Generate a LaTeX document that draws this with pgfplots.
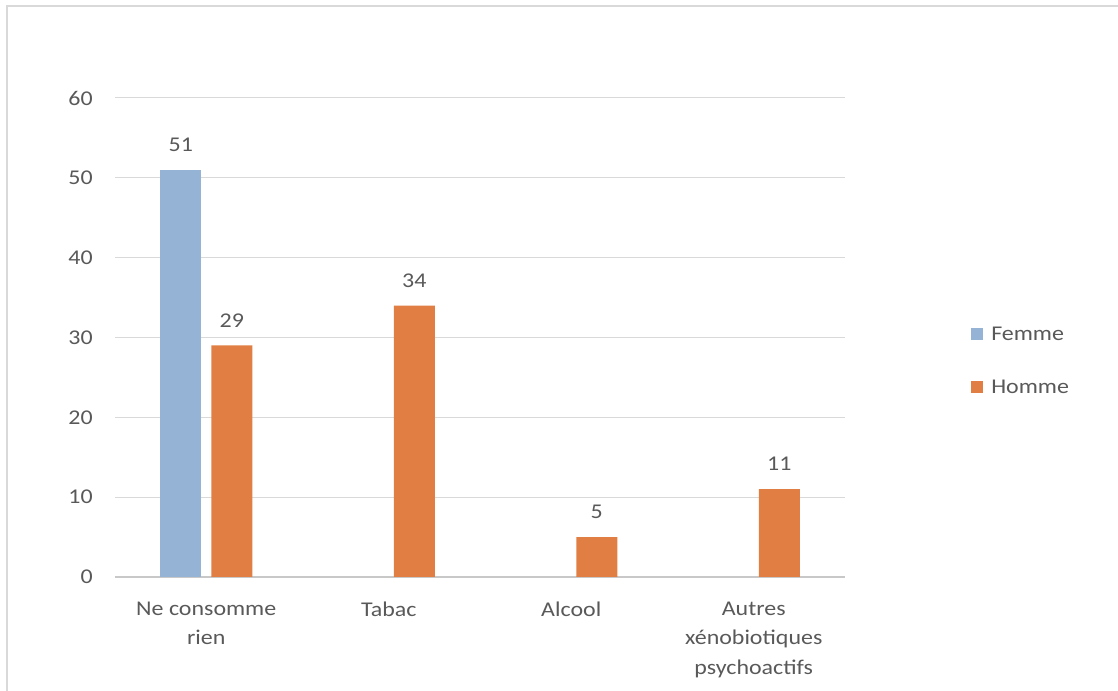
\documentclass[border=0pt]{standalone}
\usepackage{fontspec}
\setmainfont[FakeStretch=1.14]{Carlito}
\usepackage{pgfplots}
\pgfplotsset{compat=1.18}
\definecolor{femme}{RGB}{148,179,213}
\definecolor{homme}{RGB}{224,126,67}
\definecolor{txt}{RGB}{89,89,89}
\definecolor{gridc}{RGB}{217,217,217}
\definecolor{basec}{RGB}{200,200,200}
\definecolor{framec}{RGB}{217,217,217}

\begin{document}
\begin{tikzpicture}[x=1pt,y=1pt,font=\fontsize{15.75}{22}\selectfont]
\useasboundingbox (0,0) rectangle (838.5,518.25);
% light frame on the left and top edges
\draw[framec, line width=1.5pt] (5.6,0) -- (5.6,513.4) -- (838.5,513.4);
\begin{axis}[
  at={(86.25pt,85.5pt)}, anchor=south west,
  scale only axis, width=547.5pt, height=359.25pt,
  ymin=0, ymax=60, ytick={0,10,...,60},
  xmin=-0.5, xmax=3.5, xtick={0,1,2,3},
  xticklabels={{Ne consomme\\rien},{Tabac},{Alcool},{Autres\\xénobiotiques\\psychoactifs}},
  /pgf/number format/assume math mode=true,
  axis lines*=left,
  y axis line style={draw=none},
  x axis line style={draw=basec, line width=1pt},
  major tick length=0pt,
  ymajorgrids, grid style={draw=gridc, line width=0.75pt},
  tick label style={text=txt},
  yticklabel style={anchor=east, inner sep=0pt, xshift=-16.5pt},
  xticklabel style={align=center, anchor=north, inner sep=0pt, yshift=-18.5pt},
  ybar=7.5pt, bar width=30.75pt,
  clip=false,
  nodes near coords,
  every node near coord/.append style={text=txt, inner sep=0pt, yshift=13.5pt},
  legend style={at={(1.1726,0.523)}, anchor=north west, draw=none, fill=none,
    inner sep=0pt, row sep=28.25pt, column sep=6pt,
    nodes={inner sep=0pt, text=txt}},
  legend cell align=left,
  legend image code/.code={\fill[#1] (0pt,-4pt) rectangle (9pt,5pt);},
]
\addplot[fill=femme, draw=none] coordinates {(0,51)};
\addplot[fill=homme, draw=none] coordinates {(0,29) (1,34) (2,5) (3,11)};
\legend{Femme, Homme}
\end{axis}
\end{tikzpicture}
\end{document}
